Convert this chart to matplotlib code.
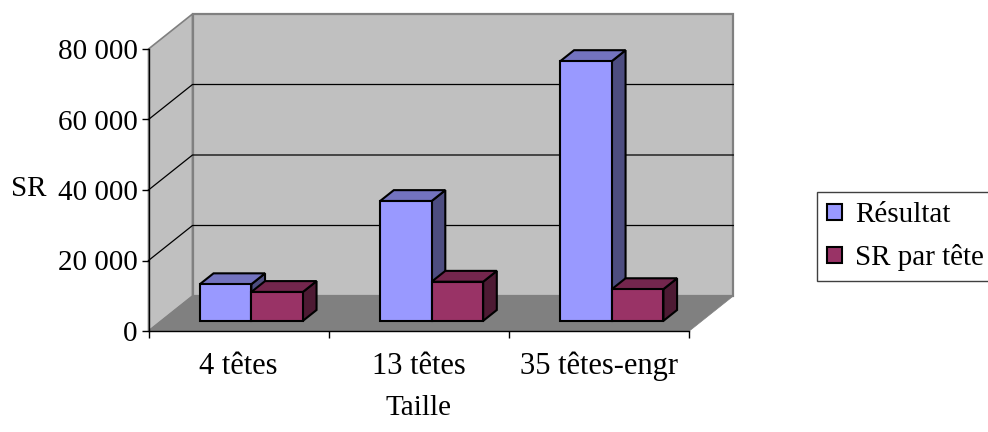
import matplotlib
matplotlib.use("Agg")
import matplotlib.pyplot as plt
from matplotlib.patches import Polygon, Rectangle
from matplotlib.lines import Line2D

# ---- data ----
categories = ["4 têtes", "13 têtes", "35 têtes-engr"]
series_names = ["Résultat", "SR par tête"]
resultat = [10400, 34000, 73700]
sr_par_tete = [8200, 11100, 9000]
y_ticks = [0, 20000, 40000, 60000, 80000]
x_title = "Taille"
y_title = "SR"

# ---- style ----
font = "Liberation Serif"
fs_y = 21
fs_x = 22
fs_leg = 21
face = {"Résultat": "#9999FF", "SR par tête": "#993366"}
top = {"Résultat": "#7373BF", "SR par tête": "#73264D"}
side = {"Résultat": "#4D4D80", "SR par tête": "#4D1A33"}
wall_col = "#C0C0C0"
floor_col = "#808080"

W, H = 988, 432
fig = plt.figure(figsize=(W / 100, H / 100), dpi=100)
ax = fig.add_axes([148.5 / W, (H - 331) / H, 540.8 / W, 282 / H])
n = len(categories)
ymax = y_ticks[-1]
ax.set_xlim(0, n)
ax.set_ylim(0, ymax)

# oblique depth of the plot box, in data units
DX = 44 / (540.8 / n)
DY = 35 / 282 * ymax


def poly(pts, fc, ec, lw, z):
    ax.add_patch(Polygon(pts, closed=True, facecolor=fc, edgecolor=ec,
                         linewidth=lw, zorder=z, clip_on=False,
                         joinstyle="miter"))


# walls and floor
poly([(0, 0), (DX, DY), (DX, ymax + DY), (0, ymax)], wall_col, "#808080", 1.2, 0.2)
poly([(DX, DY), (n + DX, DY), (n + DX, ymax + DY), (DX, ymax + DY)],
     wall_col, "#808080", 1.6, 0.2)
poly([(0, 0), (n, 0), (n + DX, DY), (DX, DY)], floor_col, floor_col, 0.5, 0.3)

# gridlines across side wall and back wall
for v in y_ticks[1:-1]:
    ax.add_line(Line2D([0, DX, n + DX], [v, v + DY, v + DY], color="black",
                       linewidth=0.9, zorder=0.4, clip_on=False))

# 3D bars
f0, fd = 0.29, 0.31
bw = 1 / 3.5
ox, oy = f0 * DX, f0 * DY
ddx, ddy = fd * DX, fd * DY
z = 1
for i in range(n):
    for j, (name, vals) in enumerate(zip(series_names, [resultat, sr_par_tete])):
        v = vals[i]
        x0 = i + 0.5 - bw + j * bw + ox
        x1 = x0 + bw
        b, t = oy, v + oy
        poly([(x1, b), (x1 + ddx, b + ddy), (x1 + ddx, t + ddy), (x1, t)],
             side[name], "black", 1.5, z)
        poly([(x0, t), (x1, t), (x1 + ddx, t + ddy), (x0 + ddx, t + ddy)],
             top[name], "black", 1.5, z)
        poly([(x0, b), (x1, b), (x1, t), (x0, t)], face[name], "black", 1.5, z)
        z += 0.01

# axes
for s in ("top", "right"):
    ax.spines[s].set_visible(False)
for s in ("left", "bottom"):
    ax.spines[s].set_color("black")
    ax.spines[s].set_linewidth(1.0)
    ax.spines[s].set_zorder(5)
ax.set_facecolor("none")

ax.set_yticks(y_ticks)
ax.set_yticklabels([f"{v:,}".replace(",", " ") for v in y_ticks],
                   fontfamily=font, fontsize=fs_y)
ax.tick_params(axis="y", direction="out", length=5, width=1, pad=3.0,
               color="black")

ax.set_xticks(range(n + 1))
ax.set_xticklabels([])
ax.set_xticks([i + 0.5 for i in range(n)], minor=True)
ax.set_xticklabels(categories, minor=True, fontfamily=font, fontsize=fs_x)
ax.tick_params(axis="x", which="major", direction="out", length=5, width=1)
ax.tick_params(axis="x", which="minor", length=0, pad=15)

ax.set_ylabel(y_title, rotation=0, fontfamily=font, fontsize=fs_y,
              ha="center", va="center")
ax.yaxis.set_label_coords(-0.222, 0.505)
ax.set_xlabel(x_title, fontfamily=font, fontsize=fs_y, va="center")
ax.xaxis.set_label_coords(0.5, -0.272)

# legend
handles = [Rectangle((0, 0), 1, 1, facecolor=face[s], edgecolor="black",
                     linewidth=1.5) for s in series_names]
fig.legend(handles, series_names, loc="upper left",
           bbox_to_anchor=(817 / W, 1 - 192 / H), borderaxespad=0,
           prop={"family": font, "size": fs_leg}, frameon=True, fancybox=False,
           edgecolor="#404040", framealpha=1, handlelength=0.5,
           handleheight=0.5, handletextpad=0.45, labelspacing=0.55,
           borderpad=0.35)

fig.savefig("out.png", dpi=100)
